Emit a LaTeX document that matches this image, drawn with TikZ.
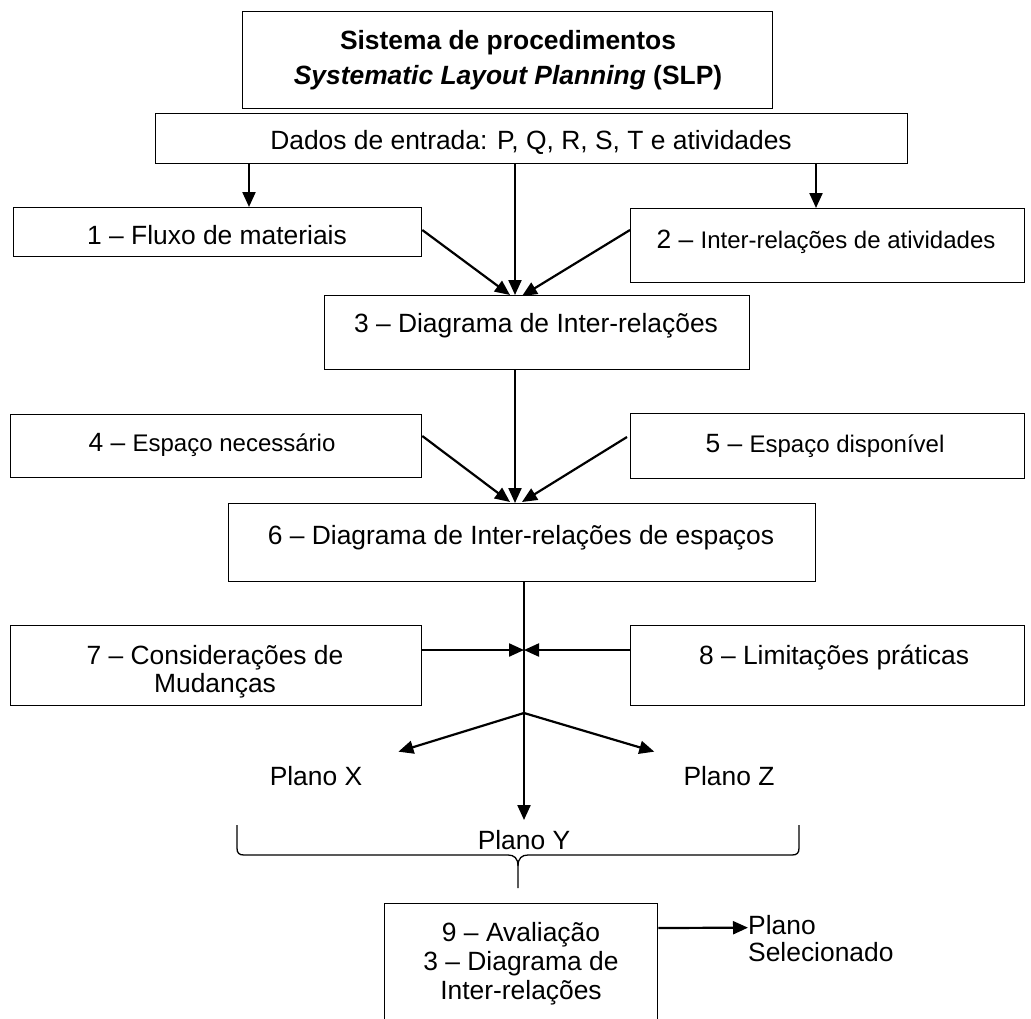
\documentclass[tikz,border=0pt]{standalone}
\usepackage{fontspec}
\setmainfont{Liberation Sans}
\usetikzlibrary{arrows.meta,calc}
\newcommand{\smalltxt}{\fontsize{24}{28}\selectfont}

\begin{document}
\begin{tikzpicture}[x=1pt,y=-1pt,
  box/.style={draw, line width=1.3pt, inner sep=0pt, anchor=north west},
  txt/.style={inner sep=0pt, anchor=base, align=center,
              font=\fontsize{26.4}{29}\selectfont},
  arr/.style={line width=2.2pt, -{Triangle[length=15pt,width=13pt]}},
  thin/.style={line width=1.3pt},
  ]
\useasboundingbox (0,0) rectangle (1031,1018);
\fill[white] (0,0) rectangle (1031,1018);

% ---- boxes ----
\node[box, minimum width=530pt, minimum height=97pt] (title) at (242,11) {};
\node[box, minimum width=752pt, minimum height=50pt] (inp) at (155,113) {};
\node[box, minimum width=408pt, minimum height=49pt] (b1) at (13,207) {};
\node[box, minimum width=394pt, minimum height=74pt] (b2) at (630,208) {};
\node[box, minimum width=425pt, minimum height=74pt] (b3) at (324,295) {};
\node[box, minimum width=411pt, minimum height=63pt] (b4) at (10,414) {};
\node[box, minimum width=394pt, minimum height=65pt] (b5) at (630,413) {};
\node[box, minimum width=587pt, minimum height=78pt] (b6) at (228,503) {};
\node[box, minimum width=411pt, minimum height=80pt] (b7) at (10,625) {};
\node[box, minimum width=394pt, minimum height=80pt] (b8) at (630,625) {};
\begin{scope}
  \clip (0,0) rectangle (1031,1018);
  \node[box, minimum width=273pt, minimum height=140pt] (b9) at (384,903) {};
\end{scope}

% ---- texts (multi-line texts sit on the baseline of their last line) ----
\node[txt, font=\fontsize{26.4}{35}\selectfont\bfseries] (ttitle) at (508,84)
  {Sistema de procedimentos\\\textit{Systematic Layout Planning} (SLP)};
\node[txt] (tinp) at (531,149) {Dados de entrada: P, Q, R, S, T e atividades};
\node[txt] (t1) at (217,244) {1 – Fluxo de materiais};
\node[txt] (t2) at (826,248) {2 – {\smalltxt Inter-relações de atividades}};
\node[txt] (t3) at (536,332) {3 – Diagrama de Inter-relações};
\node[txt] (t4) at (212,451) {4 – {\smalltxt Espaço necessário}};
\node[txt] (t5) at (825,452) {5 – {\smalltxt Espaço disponível}};
\node[txt] (t6) at (521,544) {6 – Diagrama de Inter-relações de espaços};
\node[txt, font=\fontsize{26.4}{28}\selectfont] (t7) at (215,692) {7 – Considerações de\\Mudanças};
\node[txt] (t8) at (834,664) {8 – Limitações práticas};
\node[txt] (px) at (316,785) {Plano X};
\node[txt] (pz) at (729,785) {Plano Z};
\node[txt] (py) at (524,849) {Plano Y};
\node[txt] (t9) at (521,999) {9 – Avaliação\\3 – Diagrama de\\Inter-relações};
\node[txt, align=left, anchor=base west, font=\fontsize{26.4}{27}\selectfont] (ps) at (748,961)
  {Plano\\Selecionado};

% ---- helper points ----
\coordinate (xa) at (249,0);
\coordinate (xb) at (515,0);
\coordinate (xc) at (816,0);
\coordinate (xd) at (524,0);
\coordinate (j7) at (524,650);
\coordinate (fork) at (524,713);
\coordinate (ytip) at (524,820);

% ---- connectors ----
\draw[arr] (inp.south -| xa) -- (b1.north -| xa);
\draw[arr] (inp.south -| xb) -- (b3.north -| xb);
\draw[arr] (inp.south -| xc) -- (b2.north -| xc);
\draw[arr] ($(b1.north east)+(0,23)$) -- ($(b3.north west)+(186,0)$);
\draw[arr] ($(b2.north west)+(0,22)$) -- ($(b3.north west)+(198,1)$);

\draw[arr] (b3.south -| xb) -- (b6.north -| xb);
\draw[arr] ($(b4.north east)+(0,22)$) -- ($(b6.north west)+(282,-1)$);
\draw[arr] ($(b5.north west)+(-3,24)$) -- ($(b6.north west)+(294,-1)$);

\draw[arr] (b6.south -| xd) -- (ytip);
\draw[arr] (b7.east |- j7) -- (j7);
\draw[arr] (b8.west |- j7) -- (j7);
\draw[arr] (fork) -- ($(px.north east)+(36,-14)$);
\draw[arr] (fork) -- ($(pz.north west)+(-29,-14)$);

\draw[arr] ($(b9.north east)+(0,25)$) -- ($(ps.north west)+(0,13)$);

% ---- brace under the three plans ----
\draw[thin] (237,825) -- (237,848)
  .. controls (237,853) and (239,855) .. (244,855) -- (508,855)
  .. controls (514,855) and (518,858) .. (518,866) -- (518,888);
\draw[thin] (518,866)
  .. controls (518,858) and (522,855) .. (528,855) -- (792,855)
  .. controls (797,855) and (799,853) .. (799,848) -- (799,825);
\end{tikzpicture}
\end{document}
